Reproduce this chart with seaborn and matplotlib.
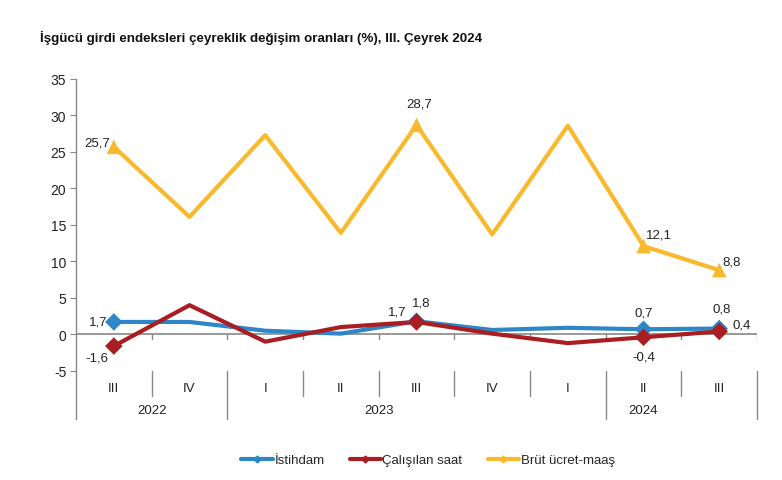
import matplotlib
matplotlib.use("Agg")
import matplotlib.pyplot as plt
from matplotlib.lines import Line2D
import numpy as np
import pandas as pd
import seaborn as sns

# data
quarters = ["III", "IV", "I", "II", "III", "IV", "I", "II", "III"]
years = ["2022", "2023", "2024"]
year_spans = [(0, 1), (2, 5), (6, 8)]
istihdam = [1.7, 1.7, 0.5, 0.1, 1.8, 0.6, 0.9, 0.7, 0.8]
calisilan_saat = [-1.6, 4.0, -1.0, 1.0, 1.7, 0.1, -1.2, -0.4, 0.4]
brut_ucret = [25.7, 16.1, 27.3, 13.9, 28.7, 13.7, 28.6, 12.1, 8.8]
series_names = ["İstihdam", "Çalışılan saat", "Brüt ücret-maaş"]
marked_idx = [0, 4, 7, 8]

colors = {"İstihdam": "#2F86C6", "Çalışılan saat": "#A81E22", "Brüt ücret-maaş": "#F9B92C"}
markers = {"İstihdam": "D", "Çalışılan saat": "D", "Brüt ücret-maaş": "^"}

x = np.arange(len(quarters))
df = pd.concat([
    pd.DataFrame({"x": x, "value": vals, "series": name})
    for name, vals in zip(series_names, [istihdam, calisilan_saat, brut_ucret])
])

sns.set_style("white")
plt.rcParams["font.family"] = ["Liberation Sans", "DejaVu Sans"]

fig = plt.figure(figsize=(7.82, 4.81), dpi=100)
ax = fig.add_axes([0.0972, 0.1268, 0.8709, 0.7069])

# draw order: yellow back, then blue, red on top
for name in ["Brüt ücret-maaş", "İstihdam", "Çalışılan saat"]:
    sub = df[df["series"] == name]
    sns.lineplot(data=sub, x="x", y="value", color=colors[name], lw=3,
                 ax=ax, sort=False, legend=False)
    pts = sub[sub["x"].isin(marked_idx)]
    sns.scatterplot(data=pts, x="x", y="value", color=colors[name],
                    marker=markers[name], s=110 if markers[name] == "^" else 80,
                    edgecolor="none", ax=ax, legend=False, zorder=5)

ax.set_xlim(-0.5, 8.5)
ax.set_ylim(-11.6, 35)
ax.set_yticks(range(-5, 40, 5))
ax.set_yticklabels([str(v) for v in range(-5, 40, 5)], fontsize=10, color="#222222")
ax.set_xticks([])
ax.set_xlabel("")
ax.set_ylabel("")
ax.tick_params(axis="y", length=4, color="#888888", pad=3, left=True)
for s in ["top", "right", "bottom"]:
    ax.spines[s].set_visible(False)
ax.spines["left"].set_color("#888888")
ax.spines["left"].set_linewidth(1)

gray = "#888888"
ax.axhline(0, color=gray, lw=1.2, zorder=1)
year_bounds = [-0.5, 1.5, 6.5, 8.5]
for b in np.arange(0.5, 9, 1.0):
    ax.plot([b, b], [0, -0.6], color=gray, lw=1, zorder=1)
    low = -11.6 if b in year_bounds else -8.4
    ax.plot([b, b], [-5.0, low], color=gray, lw=1, clip_on=False)

for i, q in enumerate(quarters):
    ax.text(i, -7.4, q, ha="center", va="center", fontsize=9.5, color="#222222")
for yr, (a, b) in zip(years, year_spans):
    ax.text((a + b) / 2, -10.3, yr, ha="center", va="center", fontsize=9.5, color="#222222")

# value labels: (series, index, dx px, dy px, ha)
labels = [
    (brut_ucret, 0, -4, 4, "right"),
    (brut_ucret, 4, 3, 21, "center"),
    (brut_ucret, 7, 2, 12, "left"),
    (brut_ucret, 8, 3, 9, "left"),
    (istihdam, 0, -6, 0, "right"),
    (istihdam, 4, 5, 19, "center"),
    (istihdam, 7, 0, 17, "center"),
    (istihdam, 8, 2, 20, "center"),
    (calisilan_saat, 0, -5, -11, "right"),
    (calisilan_saat, 4, -10, 10, "right"),
    (calisilan_saat, 7, 0, -19, "center"),
    (calisilan_saat, 8, 13, 7, "left"),
]
for vals, i, dx, dy, ha in labels:
    ax.annotate(f"{vals[i]:.1f}".replace(".", ","), (i, vals[i]),
                xytext=(dx * 0.72, dy * 0.72), textcoords="offset points",
                ha=ha, va="center", fontsize=9.5, color="#222222")

fig.text(40 / 782, 1 - 38 / 481,
         "İşgücü girdi endeksleri çeyreklik değişim oranları (%), III. Çeyrek 2024",
         ha="left", va="center", fontsize=9.6, fontweight="bold", color="#111111")

handles = [Line2D([0], [0], color=colors[n], lw=3, marker="D", markersize=3.5)
           for n in series_names]
fig.legend(handles, series_names, loc="center", bbox_to_anchor=(428 / 782, 1 - 461 / 481),
           ncol=3, frameon=False, fontsize=9.5, handlelength=2.4, handletextpad=0.1,
           columnspacing=1.9)

fig.savefig("out.png", dpi=100)
